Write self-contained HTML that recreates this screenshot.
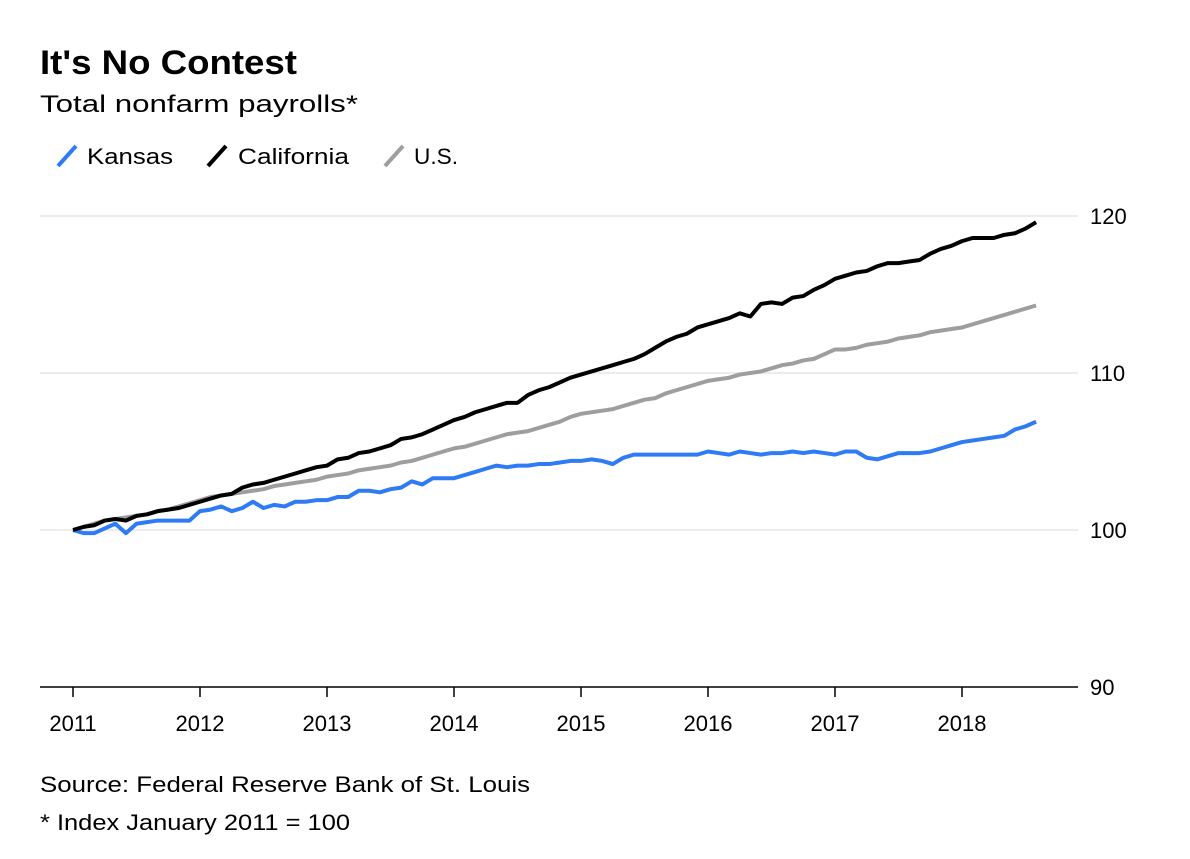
<!DOCTYPE html>
<html><head><meta charset="utf-8"><style>
body{margin:0;background:#fff;font-family:"Liberation Sans",sans-serif;}
svg text{font-family:"Liberation Sans",sans-serif;}
</style></head><body>
<svg width="1190" height="854" xmlns="http://www.w3.org/2000/svg">
<text x="40" y="74" font-size="34" font-weight="bold" fill="#000" textLength="257" lengthAdjust="spacingAndGlyphs">It's No Contest</text>
<text x="40" y="112" font-size="24" fill="#000" textLength="318" lengthAdjust="spacingAndGlyphs">Total nonfarm payrolls*</text>
<g>
 <g><line x1="58" y1="166" x2="76" y2="146" stroke="#2f7bf5" stroke-width="4"/><text x="87" y="164" font-size="22" textLength="86" lengthAdjust="spacingAndGlyphs">Kansas</text></g>
 <g><line x1="208" y1="166" x2="226" y2="146" stroke="#000" stroke-width="4"/><text x="238" y="164" font-size="22" textLength="111" lengthAdjust="spacingAndGlyphs">California</text></g>
 <g><line x1="385" y1="166" x2="403" y2="146" stroke="#9e9e9e" stroke-width="4"/><text x="414" y="164" font-size="22" textLength="44" lengthAdjust="spacingAndGlyphs">U.S.</text></g>
</g>
<g id="grid"></g>
<g id="xaxis"></g>
<g id="yaxis"></g>
<g id="series"></g>
<text x="40" y="792" font-size="22" textLength="490" lengthAdjust="spacingAndGlyphs">Source: Federal Reserve Bank of St. Louis</text>
<text x="40" y="830" font-size="22" textLength="310" lengthAdjust="spacingAndGlyphs">* Index January 2011 = 100</text>
</svg>
<script>
const yTicks=[90,100,110,120];
const xTickLabels=["2011","2012","2013","2014","2015","2016","2017","2018"];
const kansas=[100,99.8,99.8,100.1,100.4,99.8,100.4,100.5,100.6,100.6,100.6,100.6,
101.2,101.3,101.5,101.2,101.4,101.8,101.4,101.6,101.5,101.8,101.8,101.9,
101.9,102.1,102.1,102.5,102.5,102.4,102.6,102.7,103.1,102.9,103.3,103.3,
103.3,103.5,103.7,103.9,104.1,104.0,104.1,104.1,104.2,104.2,104.3,104.4,
104.4,104.5,104.4,104.2,104.6,104.8,104.8,104.8,104.8,104.8,104.8,104.8,
105.0,104.9,104.8,105.0,104.9,104.8,104.9,104.9,105.0,104.9,105.0,104.9,
104.8,105.0,105.0,104.6,104.5,104.7,104.9,104.9,104.9,105.0,105.2,105.4,
105.6,105.7,105.8,105.9,106.0,106.4,106.6,106.9];
const california=[100,100.2,100.3,100.6,100.7,100.6,100.9,101.0,101.2,101.3,101.4,101.6,
101.8,102.0,102.2,102.3,102.7,102.9,103.0,103.2,103.4,103.6,103.8,104.0,
104.1,104.5,104.6,104.9,105.0,105.2,105.4,105.8,105.9,106.1,106.4,106.7,
107.0,107.2,107.5,107.7,107.9,108.1,108.1,108.6,108.9,109.1,109.4,109.7,
109.9,110.1,110.3,110.5,110.7,110.9,111.2,111.6,112.0,112.3,112.5,112.9,
113.1,113.3,113.5,113.8,113.6,114.4,114.5,114.4,114.8,114.9,115.3,115.6,
116.0,116.2,116.4,116.5,116.8,117.0,117.0,117.1,117.2,117.6,117.9,118.1,
118.4,118.6,118.6,118.6,118.8,118.9,119.2,119.6];
const us=[100,100.2,100.4,100.6,100.7,100.8,100.9,101.0,101.2,101.3,101.5,101.7,
101.9,102.1,102.2,102.3,102.4,102.5,102.6,102.8,102.9,103.0,103.1,103.2,
103.4,103.5,103.6,103.8,103.9,104.0,104.1,104.3,104.4,104.6,104.8,105.0,
105.2,105.3,105.5,105.7,105.9,106.1,106.2,106.3,106.5,106.7,106.9,107.2,
107.4,107.5,107.6,107.7,107.9,108.1,108.3,108.4,108.7,108.9,109.1,109.3,
109.5,109.6,109.7,109.9,110.0,110.1,110.3,110.5,110.6,110.8,110.9,111.2,
111.5,111.5,111.6,111.8,111.9,112.0,112.2,112.3,112.4,112.6,112.7,112.8,
112.9,113.1,113.3,113.5,113.7,113.9,114.1,114.3];
const NS="http://www.w3.org/2000/svg";
const x=m=>73+m*(127/12);
const y=v=>530-(v-100)*15.7;
function el(t,a,p){const e=document.createElementNS(NS,t);for(const k in a)e.setAttribute(k,a[k]);document.getElementById(p).appendChild(e);return e;}
yTicks.forEach(v=>{
 if(v>90){const g=el('line',{x1:40,x2:1078,y1:y(v),y2:y(v),stroke:'#ececec','stroke-width':2},'grid');
 
 }
 const t=el('text',{x:1090,y:y(v)+8,'font-size':22},'yaxis');t.textContent=v;
 
 
});
const ax=el('line',{x1:40,x2:1078,y1:687,y2:687,stroke:'#000','stroke-width':1.5},'xaxis');


xTickLabels.forEach((l,i)=>{
 const xp=x(i*12);
 const tk=el('line',{x1:xp,x2:xp,y1:687,y2:697,stroke:'#000','stroke-width':1.5},'xaxis');
 
 
 const t=el('text',{x:xp,y:731,'font-size':22,'text-anchor':'middle'},'xaxis');t.textContent=l;
 
 
});
[[us,'#9e9e9e','us-line'],[kansas,'#2f7bf5','kansas-line'],[california,'#000','california-line']].forEach(([d,c,n])=>{
 const p=el('polyline',{points:d.map((v,i)=>x(i)+','+y(v)).join(' '),fill:'none',stroke:c,'stroke-width':4,'stroke-linejoin':'round'},'series');
 
 
});
</script>
</body></html>
